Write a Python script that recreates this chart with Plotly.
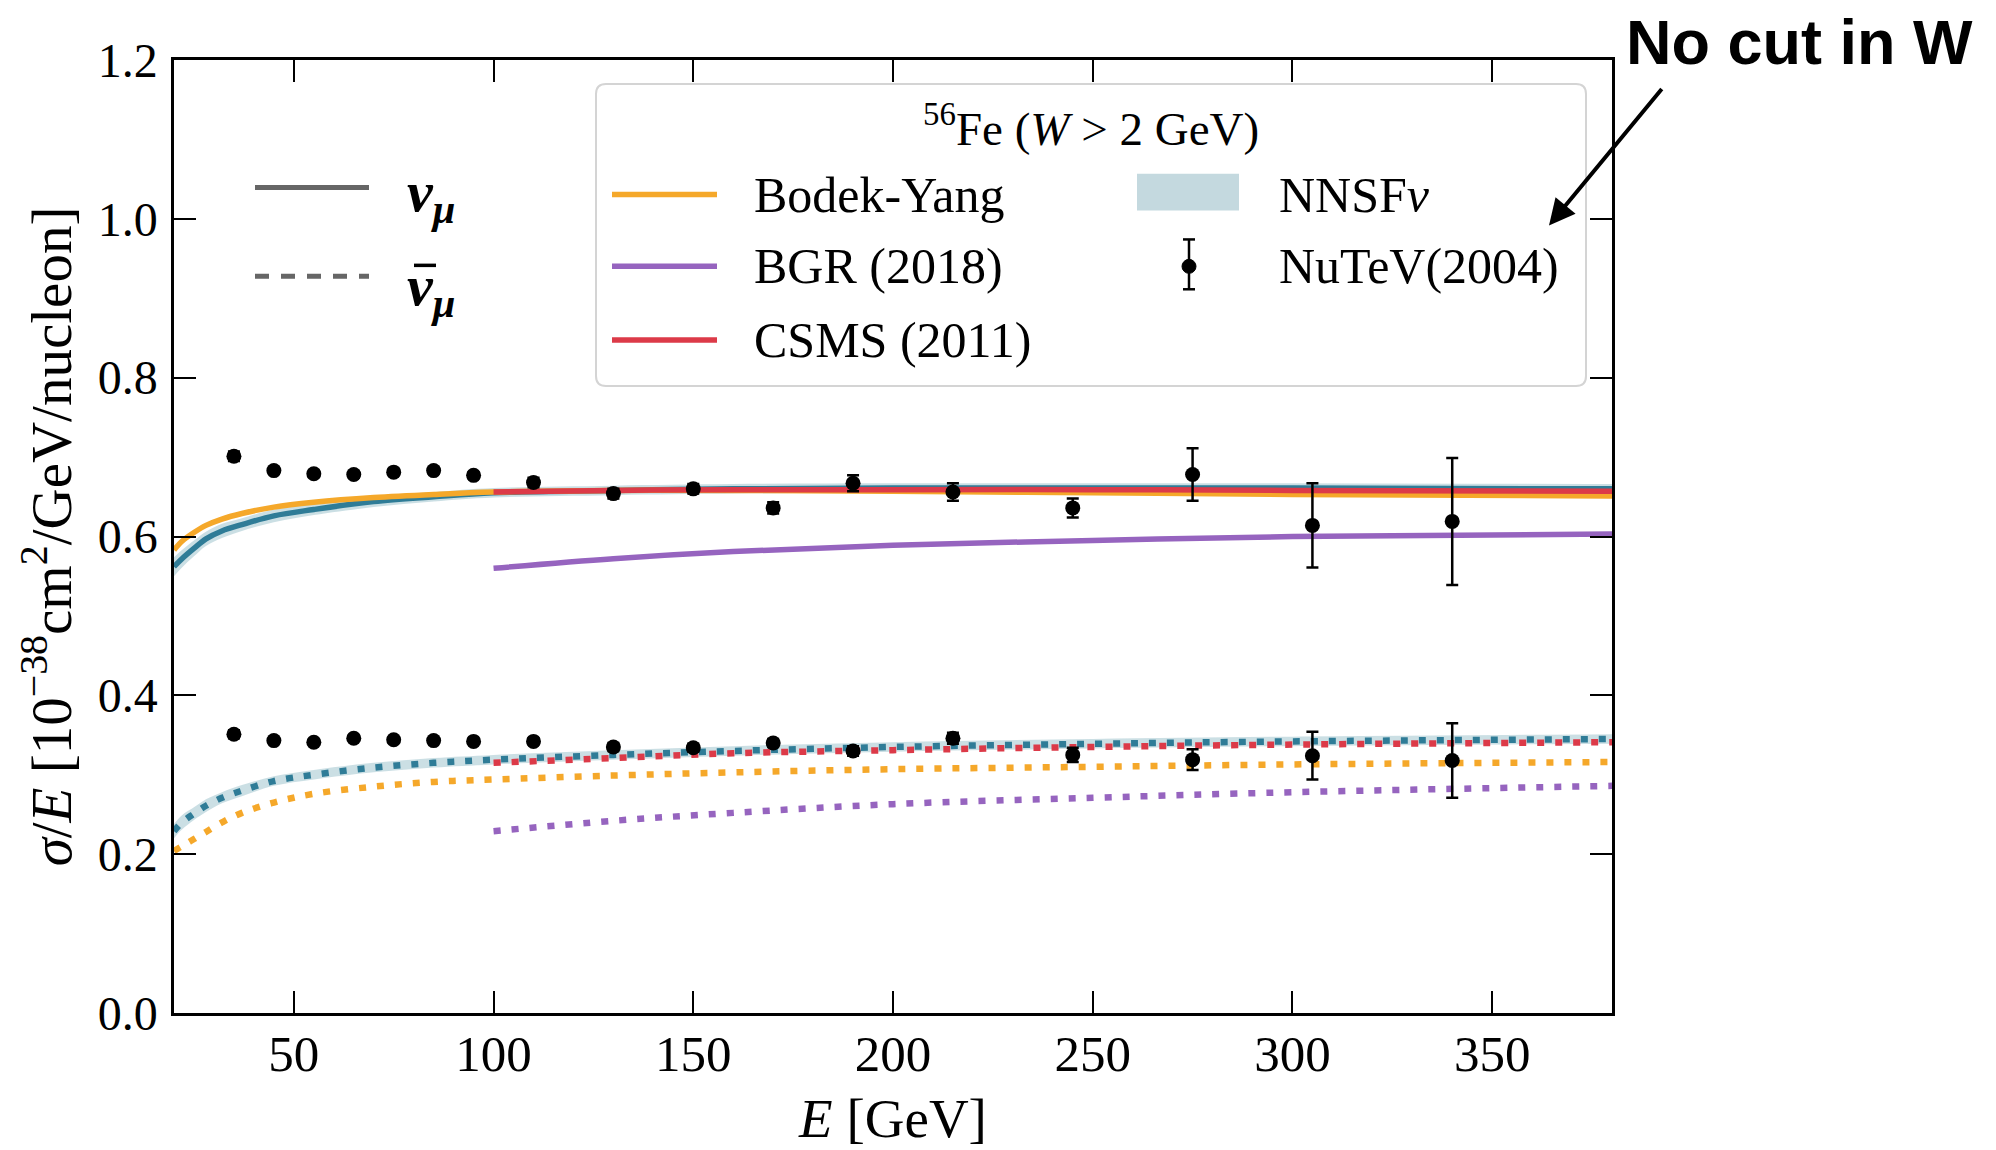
import plotly.graph_objects as go

# ---------------- data ----------------
# NuTeV (2004) measurements
nutev_E = [35, 45, 55, 65, 75, 85, 95, 110, 130, 150, 170, 190, 215, 245, 275, 305, 340]
nu_val = [0.701, 0.683, 0.679, 0.678, 0.681, 0.683, 0.677, 0.668, 0.654, 0.660, 0.636,
          0.667, 0.656, 0.636, 0.678, 0.614, 0.619]
nu_err = [0.006, 0.004, 0.004, 0.004, 0.004, 0.004, 0.004, 0.006, 0.006, 0.006, 0.007,
          0.010, 0.011, 0.012, 0.033, 0.053, 0.080]
nubar_val = [0.351, 0.343, 0.341, 0.346, 0.344, 0.343, 0.342, 0.342, 0.335, 0.334, 0.340,
             0.330, 0.346, 0.325, 0.319, 0.324, 0.318]
nubar_err = [0.005, 0.003, 0.003, 0.003, 0.003, 0.003, 0.003, 0.004, 0.005, 0.005, 0.005,
             0.006, 0.007, 0.009, 0.013, 0.030, 0.047]

# model curves, full range
E_full = [20, 22, 25, 28, 32, 37, 45, 55, 70, 85, 100, 130, 160, 200, 250, 300, 380]
nnsf_nu = [0.562, 0.572, 0.585, 0.597, 0.607, 0.615, 0.626, 0.634, 0.644, 0.650, 0.655,
           0.658, 0.660, 0.661, 0.661, 0.661, 0.660]
nnsf_nu_hw = [0.012, 0.011, 0.010, 0.009, 0.009, 0.008, 0.008, 0.007, 0.007, 0.006, 0.006,
              0.006, 0.006, 0.006, 0.006, 0.006, 0.006]
nnsf_nubar = [0.229, 0.240, 0.251, 0.261, 0.271, 0.280, 0.292, 0.300, 0.309, 0.315, 0.319,
              0.325, 0.330, 0.335, 0.339, 0.342, 0.345]
nnsf_nubar_hw = [0.009, 0.009, 0.008, 0.008, 0.007, 0.007, 0.006, 0.006, 0.006, 0.006, 0.006,
                 0.006, 0.006, 0.006, 0.006, 0.006, 0.006]
by_nu = [0.583, 0.594, 0.605, 0.614, 0.622, 0.629, 0.637, 0.643, 0.649, 0.653, 0.656,
         0.658, 0.658, 0.657, 0.655, 0.653, 0.651]
by_nubar = [0.204, 0.210, 0.219, 0.228, 0.240, 0.252, 0.265, 0.276, 0.285, 0.291, 0.294,
            0.299, 0.303, 0.307, 0.310, 0.313, 0.316]

# model curves starting at 100 GeV
E_high = [100, 130, 160, 200, 250, 300, 380]
bgr_nu = [0.560, 0.572, 0.581, 0.589, 0.595, 0.600, 0.603]
bgr_nubar = [0.229, 0.242, 0.252, 0.263, 0.271, 0.278, 0.286]
csms_nu = [0.656, 0.658, 0.659, 0.659, 0.659, 0.658, 0.657]
csms_nubar = [0.315, 0.321, 0.327, 0.331, 0.335, 0.338, 0.341]

x_ticks = [50, 100, 150, 200, 250, 300, 350]
y_ticks = [0.0, 0.2, 0.4, 0.6, 0.8, 1.0, 1.2]

# ---------------- style ----------------
C_BY = "#f5a82a"
C_BGR = "#9664bf"
C_CSMS = "#dc3a48"
C_NNSF = "#2f7c97"
C_BAND = "rgba(160,196,206,0.55)"
C_BAND_LEG = "#c4d9df"
SERIF = "Liberation Serif"
DOT = "7px,11px"
LW = 5.5
LW_DOT = 6.5

W, H = 1996, 1150
L, R, T, B = 174, 384, 60, 134
PW, PH = W - L - R, H - T - B


def px(x):
    return (x - L) / PW


def py(y):
    return (H - B - y) / PH


fig = go.Figure()


def band(E, c, hw):
    up = [a + b for a, b in zip(c, hw)]
    lo = [a - b for a, b in zip(c, hw)]
    fig.add_trace(go.Scatter(x=E, y=up, mode="lines", line=dict(width=0, shape="spline"),
                             showlegend=False, hoverinfo="skip"))
    fig.add_trace(go.Scatter(x=E, y=lo, mode="lines", line=dict(width=0, shape="spline"),
                             fill="tonexty", fillcolor=C_BAND, showlegend=False, hoverinfo="skip"))


band(E_full, nnsf_nu, nnsf_nu_hw)
band(E_full, nnsf_nubar, nnsf_nubar_hw)


def curve(E, y, color, dash=None):
    fig.add_trace(go.Scatter(x=E, y=y, mode="lines",
                             line=dict(color=color, width=LW_DOT if dash else LW, shape="spline",
                                       smoothing=1.0, dash=dash if dash else "solid"),
                             showlegend=False))


curve(E_full, nnsf_nu, C_NNSF)
curve(E_full, nnsf_nubar, C_NNSF, DOT)
curve(E_full, by_nu, C_BY)
curve(E_full, by_nubar, C_BY, DOT)
curve(E_high, bgr_nu, C_BGR)
curve(E_high, bgr_nubar, C_BGR, DOT)
curve(E_high, csms_nu, C_CSMS)
curve(E_high, csms_nubar, C_CSMS, DOT)

for vals, errs in [(nu_val, nu_err), (nubar_val, nubar_err)]:
    fig.add_trace(go.Scatter(x=nutev_E, y=vals, mode="markers",
                             marker=dict(color="black", size=15),
                             error_y=dict(type="data", array=errs, color="black",
                                          thickness=2.5, width=6),
                             showlegend=False))

shapes = []
annotations = []

# ---- model legend box ----
bx0, bx1, by0, by1, rr = 596, 1586, 84, 387, 10
path = (f"M {px(bx0+rr)},{py(by0)} L {px(bx1-rr)},{py(by0)} Q {px(bx1)},{py(by0)} {px(bx1)},{py(by0+rr)} "
        f"L {px(bx1)},{py(by1-rr)} Q {px(bx1)},{py(by1)} {px(bx1-rr)},{py(by1)} "
        f"L {px(bx0+rr)},{py(by1)} Q {px(bx0)},{py(by1)} {px(bx0)},{py(by1-rr)} "
        f"L {px(bx0)},{py(by0+rr)} Q {px(bx0)},{py(by0)} {px(bx0+rr)},{py(by0)} Z")
shapes.append(dict(type="path", path=path, xref="paper", yref="paper",
                   fillcolor="white", line=dict(color="#d4d4d4", width=2), layer="above"))

annotations.append(dict(text="<sup>56</sup>Fe (<i>W</i> > 2 GeV)", x=px(1091), y=py(126),
                        xref="paper", yref="paper", showarrow=False, xanchor="center", yanchor="middle",
                        font=dict(family=SERIF, size=47, color="black")))

LEG_FS = 50
leg_items = [("Bodek-Yang", C_BY, 195), ("BGR (2018)", C_BGR, 267), ("CSMS (2011)", C_CSMS, 341)]
for name, col, yy in leg_items:
    shapes.append(dict(type="line", xref="paper", yref="paper", x0=px(612), x1=px(717),
                       y0=py(yy), y1=py(yy), line=dict(color=col, width=LW), layer="above"))
    annotations.append(dict(text=name, x=px(752), y=py(yy), xref="paper", yref="paper",
                            showarrow=False, xanchor="left", yanchor="middle",
                            font=dict(family=SERIF, size=LEG_FS, color="black")))

shapes.append(dict(type="rect", xref="paper", yref="paper", x0=px(1137), x1=px(1239),
                   y0=py(211), y1=py(174), fillcolor=C_BAND_LEG, line=dict(width=0), layer="above"))
annotations.append(dict(text="NNSF<i>ν</i>", x=px(1277), y=py(195), xref="paper", yref="paper",
                        showarrow=False, xanchor="left", yanchor="middle",
                        font=dict(family=SERIF, size=LEG_FS, color="black")))
# NuTeV legend symbol
shapes.append(dict(type="line", xref="paper", yref="paper", x0=px(1189), x1=px(1189),
                   y0=py(240), y1=py(290), line=dict(color="black", width=2.5), layer="above"))
for cy in (240, 290):
    shapes.append(dict(type="line", xref="paper", yref="paper", x0=px(1183), x1=px(1195),
                       y0=py(cy), y1=py(cy), line=dict(color="black", width=2.5), layer="above"))
shapes.append(dict(type="circle", xref="paper", yref="paper", x0=px(1182), x1=px(1196),
                   y0=py(274), y1=py(260), fillcolor="black", line=dict(color="black", width=1),
                   layer="above"))
annotations.append(dict(text="NuTeV(2004)", x=px(1277), y=py(267), xref="paper", yref="paper",
                        showarrow=False, xanchor="left", yanchor="middle",
                        font=dict(family=SERIF, size=LEG_FS, color="black")))

# ---- neutrino type legend ----
shapes.append(dict(type="line", xref="paper", yref="paper", x0=px(255), x1=px(369),
                   y0=py(188), y1=py(188), line=dict(color="#666666", width=5)))
shapes.append(dict(type="line", xref="paper", yref="paper", x0=px(255), x1=px(369),
                   y0=py(277), y1=py(277), line=dict(color="#666666", width=5, dash="14px,12px")))
annotations.append(dict(text="<b><i>ν</i></b><sub><b><i>μ</i></b></sub>", x=px(405), y=py(196),
                        xref="paper", yref="paper", showarrow=False, xanchor="left", yanchor="middle",
                        font=dict(family=SERIF, size=58, color="black")))
annotations.append(dict(text="<b><i>ν</i></b><sub><b><i>μ</i></b></sub>", x=px(405), y=py(290),
                        xref="paper", yref="paper", showarrow=False, xanchor="left", yanchor="middle",
                        font=dict(family=SERIF, size=58, color="black")))
# macron over the antineutrino symbol
shapes.append(dict(type="line", xref="paper", yref="paper", x0=px(414), x1=px(436),
                   y0=py(266), y1=py(266), line=dict(color="black", width=3.5)))

# ---- "No cut in W" annotation ----
annotations.append(dict(text="<b>No cut in W</b>", x=px(1799), y=py(42), xref="paper", yref="paper",
                        showarrow=False, xanchor="center", yanchor="middle",
                        font=dict(family="Liberation Sans", size=63, color="black")))
annotations.append(dict(text="", x=px(1549), y=py(226), xref="paper", yref="paper",
                        ax=1663 - 1549, ay=88 - 226, showarrow=True, arrowhead=2, arrowsize=1.3,
                        arrowwidth=4, arrowcolor="black"))

axis_common = dict(showline=True, linecolor="black", linewidth=2.5, mirror="ticks",
                   ticks="inside", ticklen=22, tickwidth=2, tickcolor="black",
                   showgrid=False, zeroline=False)

fig.update_layout(
    width=W, height=H, autosize=False,
    margin=dict(l=L, r=R, t=T, b=B),
    paper_bgcolor="white", plot_bgcolor="white",
    showlegend=False,
    xaxis=dict(range=[20, 380], tickvals=x_ticks, ticktext=[str(v) for v in x_ticks],
               tickfont=dict(family=SERIF, size=51, color="black"),
               title=dict(text="<i>E</i> [GeV]", font=dict(family=SERIF, size=55, color="black"),
                          standoff=18),
               ticklabelstandoff=-6, **axis_common),
    yaxis=dict(range=[0, 1.2], tickvals=y_ticks, ticktext=[f"{v:.1f}" for v in y_ticks],
               tickfont=dict(family=SERIF, size=48, color="black"),
               title=dict(text="<i>σ</i>/<i>E</i> [10<sup>−38</sup>cm<sup>2</sup>/GeV/nucleon]",
                          font=dict(family=SERIF, size=57, color="black"), standoff=8),
               ticklabelstandoff=4, **axis_common),
    shapes=shapes,
    annotations=annotations,
)

fig.write_html("out.html")
